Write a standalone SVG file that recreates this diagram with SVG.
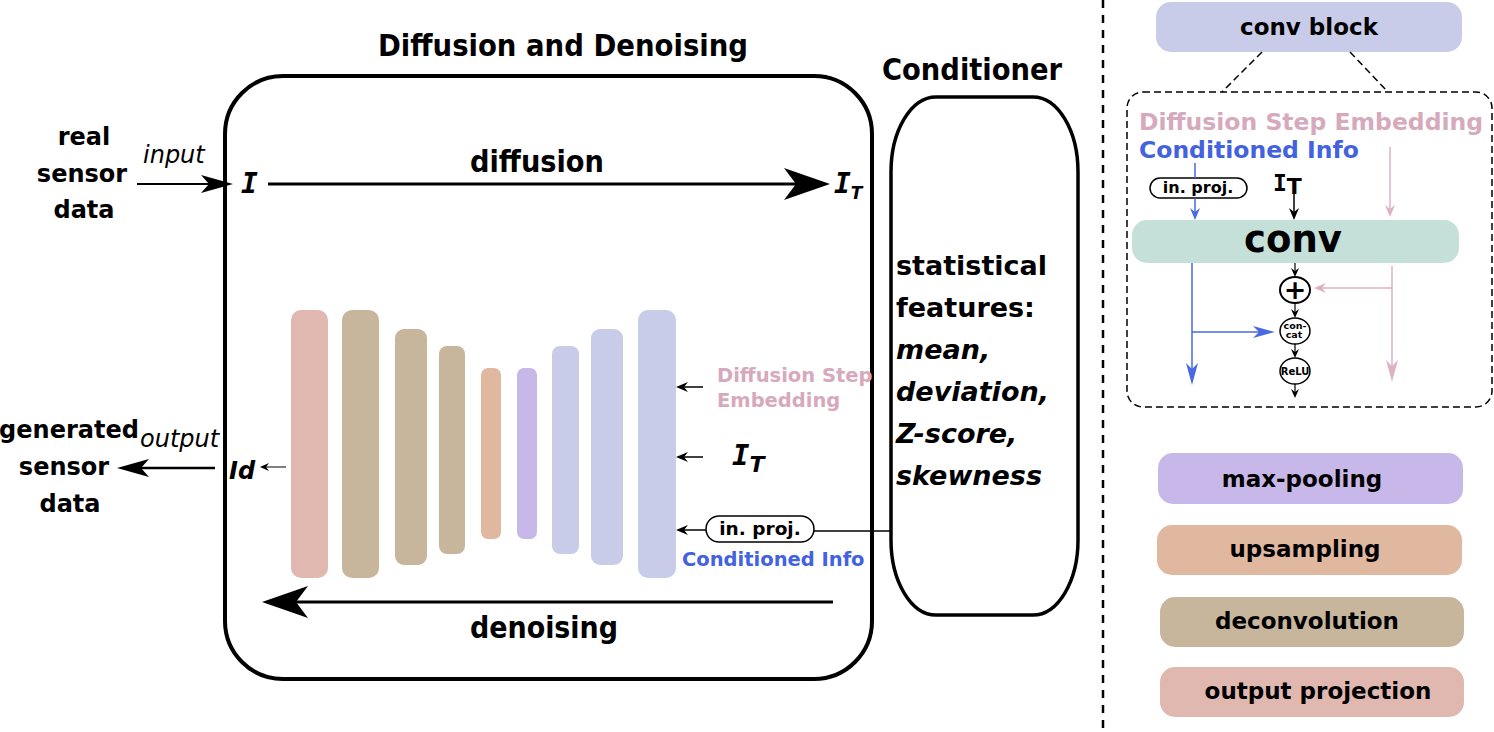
<svg xmlns="http://www.w3.org/2000/svg" width="1494" height="732" viewBox="0 0 1494 732">
<style>
text{font-family:"DejaVu Sans","Verdana","Liberation Sans",sans-serif;font-weight:bold;fill:#000;}
.cond{font-family:"DejaVu Sans Condensed","DejaVu Sans",sans-serif;font-stretch:condensed;}
.it{font-style:italic;}
.reg{font-weight:normal;}
.mono{font-family:"DejaVu Sans Mono",monospace;}
.pink{fill:#d6a9bd;}
.blue{fill:#4262e0;}
.c{text-anchor:middle;}
.frame{fill:none;stroke:#000;}
.pill{fill:#fff;stroke:#000;stroke-width:1.5;}
.ln{fill:none;stroke:#000;}
.bl{fill:none;stroke:#4a68e2;stroke-width:1.5;}
.pk{fill:none;stroke:#dcb2c4;stroke-width:1.5;}
.dash{fill:none;stroke:#000;stroke-width:1.5;stroke-dasharray:7 4;}
</style>
<defs>
<marker id="bigHead" markerUnits="userSpaceOnUse" markerWidth="48" markerHeight="34" refX="12" refY="16" orient="auto" overflow="visible"><path d="M0,0 L46,16 L0,32 L12,16 Z" fill="#000"/></marker>
<marker id="medHead" markerUnits="userSpaceOnUse" markerWidth="34" markerHeight="20" refX="8" refY="9" orient="auto" overflow="visible"><path d="M0,0 L32,9 L0,18 L8,9 Z" fill="#000"/></marker>
<marker id="smHead" markerUnits="userSpaceOnUse" markerWidth="14" markerHeight="12" refX="4" refY="5" orient="auto" overflow="visible"><path d="M0,0 L12,5 L0,10 L4,5 Z" fill="#000"/></marker>
<marker id="tinyHead" markerUnits="userSpaceOnUse" markerWidth="10" markerHeight="10" refX="3" refY="4" orient="auto" overflow="visible"><path d="M0,0 L9,4 L0,8 L3,4 Z" fill="#000"/></marker>
<marker id="blueHead" markerUnits="userSpaceOnUse" markerWidth="24" markerHeight="14" refX="6" refY="6" orient="auto" overflow="visible"><path d="M0,0 L22,6 L0,12 L6,6 Z" fill="#4a68e2"/></marker>
<marker id="blueSm" markerUnits="userSpaceOnUse" markerWidth="14" markerHeight="12" refX="4" refY="5" orient="auto" overflow="visible"><path d="M0,0 L12,5 L0,10 L4,5 Z" fill="#4a68e2"/></marker>
<marker id="pinkHead" markerUnits="userSpaceOnUse" markerWidth="24" markerHeight="14" refX="6" refY="6" orient="auto" overflow="visible"><path d="M0,0 L22,6 L0,12 L6,6 Z" fill="#dcb2c4"/></marker>
<marker id="pinkSm" markerUnits="userSpaceOnUse" markerWidth="14" markerHeight="12" refX="4" refY="5" orient="auto" overflow="visible"><path d="M0,0 L12,5 L0,10 L4,5 Z" fill="#dcb2c4"/></marker>
</defs>
<rect width="1494" height="732" fill="#fff"/>

<!-- titles -->
<text class="cond c" x="563" y="56" font-size="31" textLength="370" lengthAdjust="spacingAndGlyphs">Diffusion and Denoising</text>
<text class="cond c" x="972" y="80" font-size="31" textLength="180" lengthAdjust="spacingAndGlyphs">Conditioner</text>

<!-- main box -->
<g id="diffusion-box">
<rect class="frame" x="225" y="76" width="647" height="603" rx="58" ry="58" stroke-width="4"/>
<text class="cond c" x="537" y="172" font-size="31" textLength="134" lengthAdjust="spacingAndGlyphs">diffusion</text>
<text class="cond c" x="544" y="638" font-size="31" textLength="148" lengthAdjust="spacingAndGlyphs">denoising</text>
<text class="mono it" x="241" y="193" font-size="28">I</text>
<text x="834" y="193" font-size="28"><tspan class="mono it">I</tspan><tspan class="it" font-size="17" dy="6">T</tspan></text>
</g>

<g id="conditioner">
<rect class="frame" x="891" y="97" width="187" height="518" rx="45" ry="75" stroke-width="3.5"/>
<text x="896" y="275" font-size="27">statistical</text>
<text x="896" y="317" font-size="27">features:</text>
<text class="it" x="896" y="359" font-size="27">mean,</text>
<text class="it" x="896" y="401" font-size="27">deviation,</text>
<text class="it" x="896" y="443" font-size="27">Z-score,</text>
<text class="it" x="896" y="485" font-size="27">skewness</text>
</g>

<g id="input-label">
<text class="c" x="84" y="145" font-size="24">real</text>
<text class="c" x="82" y="182" font-size="24">sensor</text>
<text class="c" x="84" y="218" font-size="24">data</text>
<text class="it reg" x="143" y="163" font-size="24">input</text>
</g>
<g id="output-label">
<text class="c" x="69" y="438" font-size="24">generated</text>
<text class="c" x="64" y="475" font-size="24">sensor</text>
<text class="c" x="70" y="512" font-size="24">data</text>
<text class="it reg" x="140" y="447" font-size="24">output</text>
<text class="it" x="229" y="479" font-size="24">Id</text>
</g>

<g id="unet">
<rect id="bar1" x="291" y="310" width="37" height="268" rx="10" fill="#e0b8b0"/>
<rect id="bar2" x="342" y="310" width="37" height="268" rx="10" fill="#c8b69c"/>
<rect id="bar3" x="395" y="329" width="32" height="236" rx="9" fill="#c8b69c"/>
<rect id="bar4" x="439" y="346" width="26" height="208" rx="8" fill="#c8b69c"/>
<rect id="bar5" x="481" y="368" width="20" height="171" rx="7" fill="#e0b8a0"/>
<rect id="bar6" x="517" y="368" width="20" height="171" rx="7" fill="#c8b8ea"/>
<rect id="bar7" x="552" y="346" width="27" height="208" rx="8" fill="#c8cce8"/>
<rect id="bar8" x="591" y="329" width="32" height="236" rx="9" fill="#c8cce8"/>
<rect id="bar9" x="638" y="310" width="38" height="268" rx="10" fill="#c8cce8"/>
</g>

<g id="unet-inputs">
<text class="pink" x="717" y="382" font-size="19.5">Diffusion Step</text>
<text class="pink" x="717" y="407" font-size="19.5">Embedding</text>
<text x="732" y="465" font-size="29"><tspan class="mono it">I</tspan><tspan class="it" font-size="22" dy="7">T</tspan></text>
<rect class="pill" x="706" y="516" width="108" height="26" rx="13"/>
<text class="c" x="760" y="535" font-size="18.5">in. proj.</text>
<text class="blue" x="682" y="566" font-size="19.5">Conditioned Info</text>
</g>

<g id="connectors">
<line class="ln" x1="137" y1="184" x2="209" y2="184" stroke-width="2" marker-end="url(#medHead)"/>
<line class="ln" x1="268" y1="184" x2="796" y2="184" stroke-width="3" marker-end="url(#bigHead)"/>
<line class="ln" x1="833" y1="602" x2="296" y2="602" stroke-width="3" marker-end="url(#bigHead)"/>
<line class="ln" x1="215" y1="468" x2="141" y2="468" stroke-width="2.5" marker-end="url(#medHead)"/>
<line class="ln" x1="286" y1="467" x2="266" y2="467" stroke-width="1" marker-end="url(#tinyHead)"/>
<line class="ln" x1="703" y1="387" x2="684" y2="387" stroke-width="1.5" marker-end="url(#smHead)"/>
<line class="ln" x1="703" y1="457" x2="684" y2="457" stroke-width="1.5" marker-end="url(#smHead)"/>
<line class="ln" x1="706" y1="530" x2="684" y2="530" stroke-width="1.5" marker-end="url(#smHead)"/>
<line class="ln" x1="814" y1="531" x2="891" y2="531" stroke-width="1.5"/>
</g>

<!-- right panel -->
<line x1="1103" y1="0" x2="1103" y2="732" stroke="#000" stroke-width="2.5" stroke-dasharray="8 7"/>

<g id="conv-block">
<rect x="1156" y="2" width="306" height="50" rx="15" fill="#c8cce8"/>
<text class="c" x="1309" y="35" font-size="23">conv block</text>
</g>

<g id="conv-detail">
<line class="dash" x1="1262" y1="52" x2="1222" y2="92"/>
<line class="dash" x1="1350" y1="52" x2="1388" y2="92"/>
<rect class="dash" x="1127" y="92" width="365" height="315" rx="16"/>
<text class="pink" x="1139" y="130" font-size="23.5">Diffusion Step Embedding</text>
<text class="blue" x="1139" y="158" font-size="23.5">Conditioned Info</text>
<rect class="pill" x="1150" y="178" width="97" height="20" rx="10"/>
<text class="c" x="1198" y="193" font-size="16">in. proj.</text>
<text x="1273" y="191" font-size="23"><tspan class="mono">I</tspan><tspan font-size="22" dy="3">T</tspan></text>
<rect x="1132" y="220" width="327" height="43" rx="15" fill="#c5e0d8"/>
<text class="c" x="1293" y="252" font-size="37">conv</text>
<ellipse cx="1295" cy="290" rx="15" ry="13" fill="#fff" stroke="#000" stroke-width="2"/>
<text class="c" x="1295" y="299" font-size="27">+</text>
<ellipse cx="1295" cy="331" rx="15" ry="13" fill="#fff" stroke="#000" stroke-width="1.5"/>
<text class="c" font-size="9.5"><tspan x="1295" y="329">con-</tspan><tspan x="1294" y="338">cat</tspan></text>
<ellipse cx="1295" cy="371" rx="15" ry="13" fill="#fff" stroke="#000" stroke-width="1.5"/>
<text class="c" x="1295" y="375" font-size="10">ReLU</text>
</g>

<g id="panel-connectors">
<line class="bl" x1="1195" y1="163" x2="1195" y2="178"/>
<line class="bl" x1="1195" y1="198" x2="1195" y2="212" marker-end="url(#blueSm)"/>
<line class="ln" x1="1294" y1="194" x2="1294" y2="212" stroke-width="1.5" marker-end="url(#smHead)"/>
<line class="pk" x1="1390" y1="147" x2="1390" y2="209" marker-end="url(#pinkSm)"/>
<line class="bl" x1="1192" y1="263" x2="1192" y2="369" marker-end="url(#blueHead)"/>
<line class="bl" x1="1192" y1="332" x2="1259" y2="332" marker-end="url(#blueHead)"/>
<line class="pk" x1="1392" y1="266" x2="1392" y2="366" marker-end="url(#pinkHead)"/>
<line class="pk" x1="1392" y1="288" x2="1322" y2="288" marker-end="url(#pinkSm)"/>
<line class="ln" x1="1295" y1="263" x2="1295" y2="271" stroke-width="1.2" marker-end="url(#tinyHead)"/>
<line class="ln" x1="1295" y1="303" x2="1295" y2="312" stroke-width="1.2" marker-end="url(#tinyHead)"/>
<line class="ln" x1="1295" y1="344" x2="1295" y2="352" stroke-width="1.2" marker-end="url(#tinyHead)"/>
<line class="ln" x1="1295" y1="384" x2="1295" y2="392" stroke-width="1.2" marker-end="url(#tinyHead)"/>
</g>

<g id="legend-max-pooling">
<rect x="1158" y="453" width="305" height="51" rx="15" fill="#c8b8ea"/>
<text class="c" x="1302" y="487" font-size="23">max-pooling</text>
</g>
<g id="legend-upsampling">
<rect x="1157" y="525" width="305" height="50" rx="15" fill="#e0b8a0"/>
<text class="c" x="1305" y="557" font-size="23">upsampling</text>
</g>
<g id="legend-deconvolution">
<rect x="1160" y="597" width="304" height="50" rx="15" fill="#c8b69c"/>
<text class="c" x="1307" y="629" font-size="23">deconvolution</text>
</g>
<g id="legend-output-projection">
<rect x="1160" y="667" width="304" height="50" rx="15" fill="#e0b8b0"/>
<text class="c" x="1318" y="699" font-size="23">output projection</text>
</g>
</svg>
